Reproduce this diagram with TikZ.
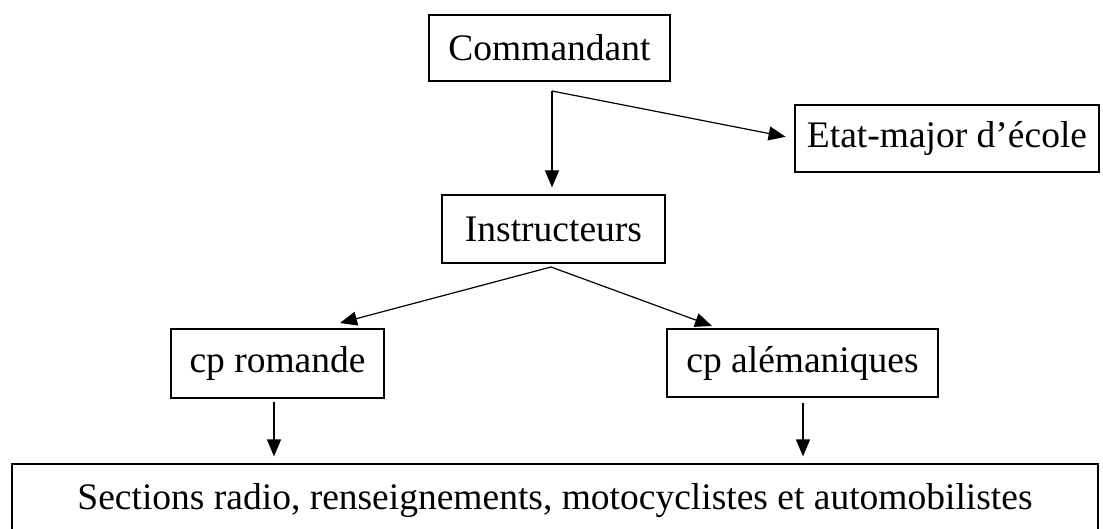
\documentclass[tikz,border=0pt]{standalone}
\usepackage{fontspec}
\setmainfont{Liberation Serif}
\usetikzlibrary{arrows.meta,calc}
\begin{document}
\begin{tikzpicture}[x=1pt,y=-1pt,
  box/.style={draw,line width=1.2pt,inner sep=0pt,font=\fontsize{37.5}{40}\selectfont},
  arr/.style={line width=1.2pt,-{Triangle[length=17pt,width=14pt]}}]
\useasboundingbox (0,0) rectangle (1103,529);
\fill[white] (0,0) rectangle (1103,529);
\clip (0,0) rectangle (1103,529);
\node[box,minimum width=241pt,minimum height=66pt] (cmd) at (549.5,48) {Commandant};
\node[box,minimum width=304pt,minimum height=67pt] (etat) at (947,138.5) {Etat-major d’école};
\node[box,minimum width=223pt,minimum height=68pt] (ins) at (553.5,229) {Instructeurs};
\node[box,minimum width=213pt,minimum height=69pt] (rom) at (277.5,363.5) {cp romande};
\node[box,minimum width=271pt,minimum height=68pt] (ale) at (802.5,363) {cp alémaniques};
\node[box,minimum width=1086pt,minimum height=73pt] (sec) at (555,500.5) {Sections radio, renseignements, motocyclistes et automobilistes};
% connectors
\coordinate (s1) at (552,91);
\coordinate (s2) at (551,267);
\coordinate (t1) at (340,323);
\coordinate (t2) at (712,326);
\coordinate (r1) at (274,402);
\coordinate (a1) at (803,403);
\draw[arr,shorten >=7pt] (s1) -- (s1 |- ins.north);
\draw[arr,shorten >=9pt] (s1) -- (etat.west);
\draw[arr] (s2) -- (t1);
\draw[arr] (s2) -- (t2);
\draw[arr,shorten >=7pt] (r1) -- (r1 |- sec.north);
\draw[arr,shorten >=7pt] (a1) -- (a1 |- sec.north);
\end{tikzpicture}
\end{document}
